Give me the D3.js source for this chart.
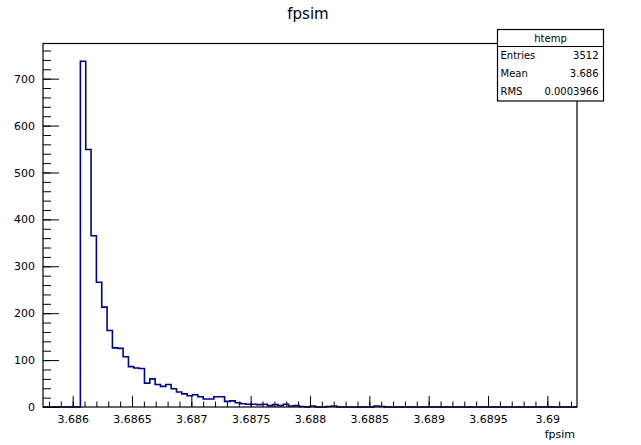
<!DOCTYPE html>
<html><head><meta charset="utf-8">
<script src="https://cdn.jsdelivr.net/npm/d3@7"></script>
<style>
body{margin:0;background:#fff}
text{font-family:"DejaVu Sans",sans-serif;fill:#000}
</style>
</head><body>
<svg id="c" width="641" height="445"></svg>
<script>
// ---- data ----
const histTitle = "fpsim";
const xAxisTitle = "fpsim";
const xRange = [3.68575, 3.69025];
const nBins = 100;
const binCounts = [
  0,0,0,0,0,0,0,737,549,365,
  266,213,163,126,125,107,86,83,82,51,
  60,48,44,48,39,32,28,24,26,22,
  17,17,22,22,12,13,9,7,6,6,
  5,6,3,5,3,6,2,3,1,0,
  2,0,0,1,2,0,0,0,0,0,
  0,0,2,1,0,0,0,0,0,0,
  0,0,0,0,0,0,0,0,0,0,
  0,0,0,0,0,0,0,0,0,0,
  0,0,0,0,0,0,0,0,0,0
];
const yMax = 775;
const xTickValues = [3.686,3.6865,3.687,3.6875,3.688,3.6885,3.689,3.6895,3.69];
const xTickLabels = ["3.686","3.6865","3.687","3.6875","3.688","3.6885","3.689","3.6895","3.69"];
const yTickValues = [0,100,200,300,400,500,600,700];
const yTickLabels = ["0","100","200","300","400","500","600","700"];
const statsName = "htemp";
const statsLabels = ["Entries","Mean","RMS"];
const statsValues = ["3512","3.686","0.0003966"];

// ---- layout ----
const L = 43, R = 577, T = 43.5, B = 407;
const svg = d3.select("#c");
const x = d3.scaleLinear().domain(xRange).range([L, R]);
const y = d3.scaleLinear().domain([0, yMax]).range([B, T]);

// histogram outline
const bw = (xRange[1]-xRange[0])/nBins;
const pts = binCounts.map((c,i)=>({e: xRange[0]+i*bw, c}));
pts.push({e: xRange[1], c: binCounts[nBins-1]});
const line = d3.line().x(d=>x(d.e)).y(d=>y(d.c)).curve(d3.curveStepAfter);
svg.append("path").attr("d", line(pts))
  .attr("fill","none").attr("stroke","#000099").attr("stroke-width",1.6);

// axes
const xMinor = d3.range(0,45).map(i=>+(3.6858+i*0.0001).toFixed(4));
const yMinor = d3.range(0,39).map(i=>i*20);

function styleAxis(g){
  g.select(".domain").remove();
  g.selectAll(".tick line").attr("stroke","#000").attr("stroke-width",1);
  g.selectAll(".tick text").style("font-family","DejaVu Sans").style("font-size","11px").attr("fill","#333");
}
svg.append("g").attr("transform",`translate(0,${B})`)
  .call(d3.axisBottom(x).tickValues(xMinor).tickSize(-5.5).tickFormat(""))
  .call(styleAxis);
svg.append("g").attr("transform",`translate(0,${B})`)
  .call(d3.axisBottom(x).tickValues(xTickValues).tickSize(-11).tickPadding(8)
        .tickFormat((d,i)=>xTickLabels[i]))
  .call(styleAxis);
svg.append("g").attr("transform",`translate(${L},0)`)
  .call(d3.axisLeft(y).tickValues(yMinor).tickSize(-8).tickFormat(""))
  .call(styleAxis);
svg.append("g").attr("transform",`translate(${L},0)`)
  .call(d3.axisLeft(y).tickValues(yTickValues).tickSize(-16).tickPadding(8)
        .tickFormat((d,i)=>yTickLabels[i]))
  .call(styleAxis);

// frame
svg.append("rect").attr("x",L).attr("y",T).attr("width",R-L).attr("height",B-T)
  .attr("fill","none").attr("stroke","#000").attr("stroke-width",1.2);

// titles
svg.append("text").attr("x",308).attr("y",18.5).attr("text-anchor","middle")
  .style("font-size","15px").text(histTitle);
svg.append("text").attr("x",575).attr("y",438).attr("text-anchor","end")
  .style("font-size","11px").attr("fill","#333").text(xAxisTitle);

// stats box
const bx = 497.5, by = 29.5, bwid = 106, bh = 71.5, hdr = 17;
const st = svg.append("g");
st.append("rect").attr("x",bx).attr("y",by).attr("width",bwid).attr("height",bh)
  .attr("fill","#fff").attr("stroke","#000").attr("stroke-width",1.2);
st.append("line").attr("x1",bx).attr("x2",bx+bwid).attr("y1",by+hdr).attr("y2",by+hdr)
  .attr("stroke","#000").attr("stroke-width",1.2);
st.append("text").attr("x",bx+bwid/2).attr("y",by+hdr/2).attr("dy","0.35em")
  .attr("text-anchor","middle").style("font-size","10px").text(statsName);
const rowH = (bh-hdr)/statsLabels.length;
statsLabels.forEach((lab,i)=>{
  const cy = by+hdr+rowH*(i+0.5);
  st.append("text").attr("x",bx+3).attr("y",cy).attr("dy","0.35em")
    .style("font-size","10px").text(lab);
  st.append("text").attr("x",bx+bwid-5).attr("y",cy).attr("dy","0.35em")
    .attr("text-anchor","end").style("font-size","10px").text(statsValues[i]);
});
</script>
</body></html>
